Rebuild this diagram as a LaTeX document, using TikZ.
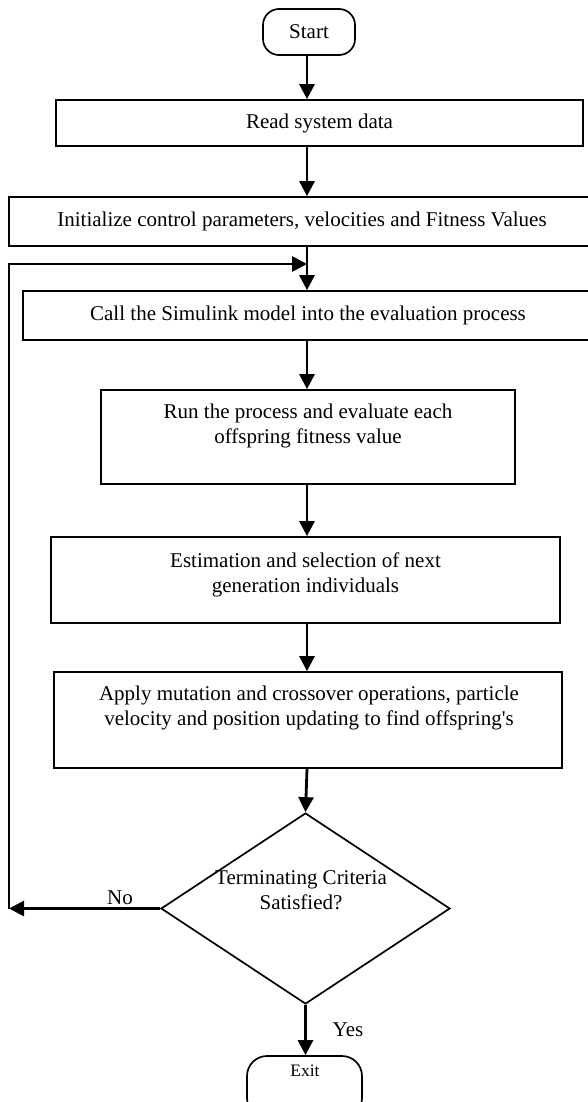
\documentclass[tikz,border=0pt]{standalone}
\usepackage{fontspec}
\setmainfont{Liberation Serif}
\usetikzlibrary{shapes.geometric,arrows.meta}
\begin{document}
\begin{tikzpicture}[x=1pt,y=-1pt,
  box/.style={draw,line width=1.7pt,inner sep=0pt,font=\fontsize{21}{25}\selectfont,align=center},
  term/.style={draw,line width=1.7pt,rounded corners=16pt,inner sep=0pt},
  txt/.style={font=\fontsize{21}{25}\selectfont,align=center,inner sep=0pt},
  arr/.style={line width=2.8pt,-{Triangle[length=15pt,width=15pt]}}]
\useasboundingbox (0,0) rectangle (588,1102);
\clip (0,0) rectangle (588,1102);
% column of the main flow
\coordinate (col) at (307,0);
\coordinate (loopcorner) at (9,264);
% nodes
\node[term,minimum width=92pt,minimum height=46pt,font=\fontsize{21}{25}\selectfont] (start) at (309,32) {Start};
\node[box,minimum width=527pt,minimum height=46pt] (read) at (319.5,123) {Read system data};
\node[box,minimum width=586pt,minimum height=49pt] (init) at (302,221.5) {Initialize control parameters, velocities and Fitness Values};
\node[box,minimum width=570pt,minimum height=49pt] (call) at (308,315.5) {Call the Simulink model into the evaluation process};
\node[box,minimum width=414pt,minimum height=94pt] (run) at (308,437) {};
\node[txt] (runt) at (308,426) {Run the process and evaluate each\\offspring fitness value};
\node[box,minimum width=509pt,minimum height=86pt] (est) at (305.5,580) {};
\node[txt] (estt) at (305.5,575) {Estimation and selection of next\\generation individuals};
\node[box,minimum width=508pt,minimum height=96pt] (apply) at (308,720) {};
\node[txt] (applyt) at (309,708) {Apply mutation and crossover operations, particle\\velocity and position updating to find offspring\textquotesingle s};
\node[diamond,draw,line width=1.7pt,minimum width=289pt,minimum height=191pt,inner sep=0pt] (dec) at (305.5,908.5) {};
\node[txt] (dect) at (301,890) {Terminating Criteria\\Satisfied?};
\node[term,rounded corners=20pt,minimum width=115pt,minimum height=62pt] (exit) at (304.5,1087) {};
\node[inner sep=0pt,font=\fontsize{17.5}{21}\selectfont] (exitt) at (305,1071) {Exit};
\node[txt] (no) at (120,898) {No};
\node[txt] (yes) at (348,1030) {Yes};
% connectors
\draw[arr] (start.south -| col) -- (read.north -| col);
\draw[arr] (read.south -| col) -- (init.north -| col);
\draw[arr] (init.south -| col) -- (call.north -| col);
\draw[arr] (call.south -| col) -- (run.north -| col);
\draw[arr] (run.south -| col) -- (est.north -| col);
\draw[arr] (est.south -| col) -- (apply.north -| col);
\draw[arr] (apply.south -| col) -- (dec.north);
\draw[arr] (dec.south) -- (exit.north -| dec.south);
\draw[arr] (dec.west) -- (dec.west -| loopcorner);
\draw[arr] (dec.west -| loopcorner) -- (loopcorner) -- (loopcorner -| col);
\end{tikzpicture}
\end{document}
